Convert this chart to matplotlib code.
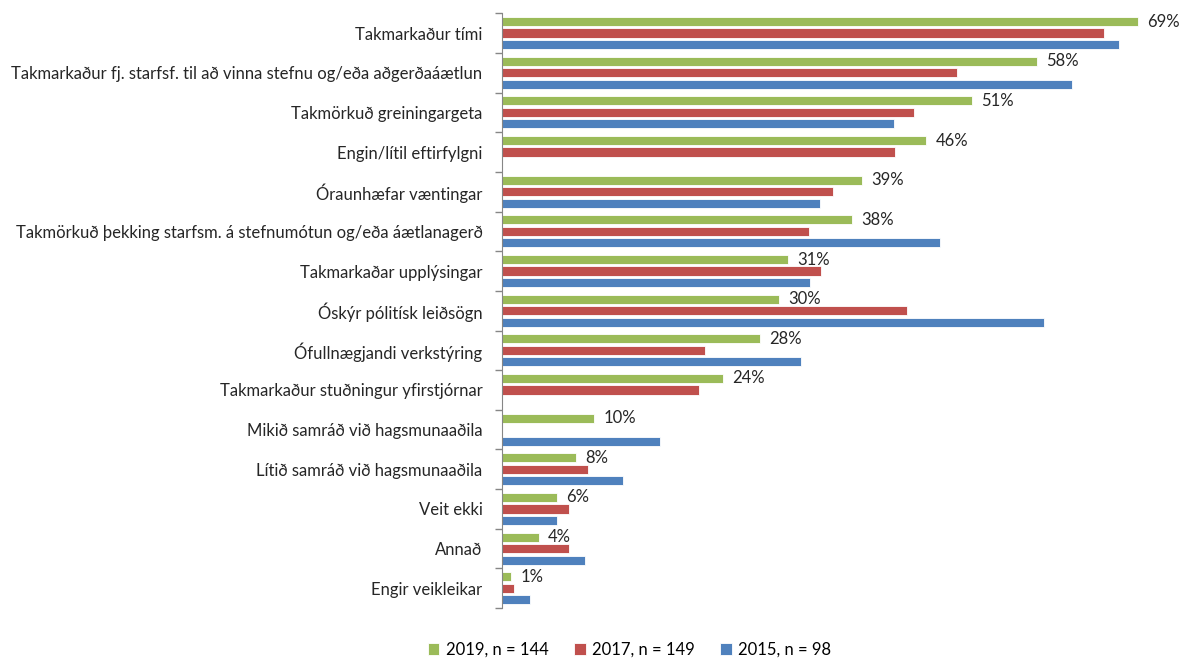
import numpy as np
import matplotlib
matplotlib.use("Agg")
import matplotlib.pyplot as plt

plt.rcParams['font.family'] = ['Lato', 'DejaVu Sans']

categories = [
    "Takmarkaður tími",
    "Takmarkaður fj. starfsf. til að vinna stefnu og/eða aðgerðaáætlun",
    "Takmörkuð greiningargeta",
    "Engin/lítil eftirfylgni",
    "Óraunhæfar væntingar",
    "Takmörkuð þekking starfsm. á stefnumótun og/eða áætlanagerð",
    "Takmarkaðar upplýsingar",
    "Óskýr pólitísk leiðsögn",
    "Ófullnægjandi verkstýring",
    "Takmarkaður stuðningur yfirstjórnar",
    "Mikið samráð við hagsmunaaðila",
    "Lítið samráð við hagsmunaaðila",
    "Veit ekki",
    "Annað",
    "Engir veikleikar",
]
v2019 = [69, 58, 51, 46, 39, 38, 31, 30, 28, 24, 10, 8, 6, 4, 1]
v2017 = [65.3, 49.3, 44.7, 42.6, 35.9, 33.3, 34.6, 43.9, 22.0, 21.4, np.nan, 9.3, 7.3, 7.3, 1.3]
v2015 = [66.9, 61.8, 42.5, np.nan, 34.5, 47.5, 33.4, 58.8, 32.4, np.nan, 17.1, 13.1, 6.0, 9.0, 3.0]
series = [("2019, n = 144", v2019, "#9BBB59"),
          ("2017, n = 149", v2017, "#C0504D"),
          ("2015, n = 98", v2015, "#4F81BD")]

fig = plt.figure(figsize=(11.88, 6.61), dpi=100)
ax = fig.add_axes([0.4226, 0.080, 0.5774, 0.900])

y = np.arange(len(categories))
offsets = [-0.29, 0.0, 0.29]
for (name, vals, col), off in zip(series, offsets):
    ax.barh(y + off, vals, height=0.23, color=col, edgecolor='white',
            linewidth=0.6, label=name)

for yi, v in zip(y, v2019):
    ax.text(v + 1.0, yi - 0.29, f"{v:.0f}%", va='center', ha='left',
            fontsize=12, color='#262626')

ax.set_ylim(len(categories) - 0.5, -0.5)
ax.set_xlim(0, 74.4)
ax.set_yticks(y)
ax.set_yticklabels(categories, fontsize=12, color='#262626')
ax.tick_params(axis='y', which='major', length=0, pad=14)
ax.set_yticks(np.arange(-0.5, len(categories), 1), minor=True)
ax.tick_params(axis='y', which='minor', length=5, color='#868686', width=1)
ax.set_xticks([])
for s in ['top', 'right', 'bottom']:
    ax.spines[s].set_visible(False)
ax.spines['left'].set_color('#868686')

fig.legend(loc='center', bbox_to_anchor=(0.53, 0.017), ncol=3, frameon=False,
           fontsize=12, handlelength=0.7, handleheight=0.7, columnspacing=1.5,
           handletextpad=0.4)

fig.savefig("out.png", dpi=100)
